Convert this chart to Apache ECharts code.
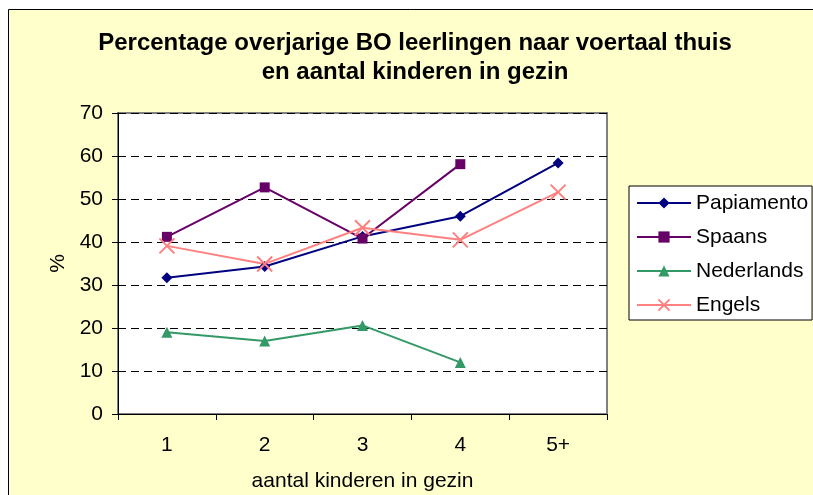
<!DOCTYPE html>
<html>
<head>
<meta charset="utf-8">
<script src="https://cdn.jsdelivr.net/npm/echarts@6/dist/echarts.min.js"></script>
<style>
  html, body { margin: 0; padding: 0; background: #fff; }
  #chart { width: 813px; height: 495px; }
</style>
</head>
<body>
<div id="chart"></div>
<script>
// categorieen en waarden
var categories = ['1', '2', '3', '4', '5+'];
var papiamento = [31.7, 34.3, 41.3, 46.0, 58.4];
var spaans = [41.2, 52.7, 40.8, 58.1];
var nederlands = [19.0, 17.0, 20.6, 12.0];
var engels = [39.1, 34.9, 43.3, 40.5, 51.6];

var font = 'Liberation Sans, Arial, sans-serif';
var chart = echarts.init(document.getElementById('chart'));

var option = {
    backgroundColor: '#FFFFCC',
    animation: false,
    title: {
        text: 'Percentage overjarige BO leerlingen naar voertaal thuis\nen aantal kinderen in gezin',
        left: 410,
        top: 24,
        textAlign: 'center',
        textStyle: {
            fontFamily: font,
            fontSize: 24,
            fontWeight: 'bold',
            color: '#000',
            lineHeight: 29
        }
    },
    graphic: [
        // witte rand boven en links, zoals in het origineel
        { type: 'rect', shape: { x: 0, y: 0, width: 813, height: 9 }, style: { fill: '#fff' }, silent: true },
        { type: 'rect', shape: { x: 0, y: 0, width: 8, height: 495 }, style: { fill: '#fff' }, silent: true },
        { type: 'polyline', shape: { points: [[8.5, 495], [8.5, 9.5], [813, 9.5]] }, style: { stroke: '#000', lineWidth: 1, fill: null }, silent: true }
    ],
    grid: {
        left: 118,
        top: 113,
        width: 489,
        height: 301,
        outerBoundsMode: 'none',
        containLabel: false,
        show: true,
        backgroundColor: '#fff',
        borderColor: '#808080',
        borderWidth: 2
    },
    legend: {
        orient: 'vertical',
        left: 629,
        top: 186,
        padding: [6, 4, 4, 7],
        itemWidth: 54,
        itemHeight: 14,
        itemGap: 12,
        backgroundColor: '#fff',
        borderColor: '#000',
        borderWidth: 1,
        borderRadius: 0,
        textStyle: { fontFamily: font, fontSize: 21, color: '#000', lineHeight: 22 },
        data: ['Papiamento', 'Spaans', 'Nederlands', 'Engels']
    },
    xAxis: {
        type: 'category',
        data: categories,
        boundaryGap: true,
        name: 'aantal kinderen in gezin',
        nameLocation: 'middle',
        nameGap: 57,
        nameTextStyle: { fontFamily: font, fontSize: 21, color: '#000' },
        axisLine: { lineStyle: { color: '#000', width: 1 } },
        axisTick: { show: true, length: 6, lineStyle: { color: '#000' } },
        axisLabel: { fontFamily: font, fontSize: 21, color: '#000', margin: 21 }
    },
    yAxis: {
        type: 'value',
        min: 0,
        max: 70,
        interval: 10,
        name: '%',
        nameLocation: 'middle',
        nameGap: 48,
        nameTextStyle: { fontFamily: font, fontSize: 21, color: '#000' },
        axisLine: { show: true, lineStyle: { color: '#000', width: 1 } },
        axisTick: { show: true, length: 6, lineStyle: { color: '#000' } },
        axisLabel: { fontFamily: font, fontSize: 21, color: '#000', margin: 15 },
        splitLine: { show: true, lineStyle: { color: '#000', type: [8, 5], width: 1 } }
    },
    series: [{
        name: 'Papiamento',
        type: 'line',
        data: papiamento,
        symbol: 'diamond',
        symbolSize: 11,
        lineStyle: { color: '#000080', width: 2 },
        itemStyle: { color: '#000080' }
    }, {
        name: 'Spaans',
        type: 'line',
        data: spaans,
        symbol: 'rect',
        symbolSize: 10,
        lineStyle: { color: '#660066', width: 2 },
        itemStyle: { color: '#660066' }
    }, {
        name: 'Nederlands',
        type: 'line',
        data: nederlands,
        symbol: 'triangle',
        symbolSize: 11,
        lineStyle: { color: '#339966', width: 2 },
        itemStyle: { color: '#339966' }
    }, {
        name: 'Engels',
        type: 'line',
        data: engels,
        symbol: 'path://M0,0L10,10M10,0L0,10',
        symbolSize: 15,
        lineStyle: { color: '#FF8080', width: 2 },
        itemStyle: { color: '#FF8080', borderColor: '#FF8080', borderWidth: 2 }
    }]
};

chart.setOption(option);
</script>
</body>
</html>
